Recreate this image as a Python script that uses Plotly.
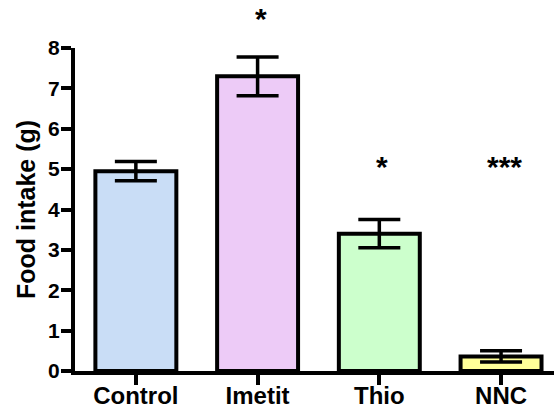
import plotly.graph_objects as go

# Food intake per treatment group (mean ± SEM)
groups = ["Control", "Imetit", "Thio", "NNC"]
intake_mean = [4.95, 7.30, 3.40, 0.36]
intake_sem = [0.24, 0.48, 0.35, 0.14]
bar_colors = ["#c9ddf6", "#edcbf7", "#ccffcc", "#ffff99"]

# Significance markers and the height (g) at which each is written
sig_groups = ["Imetit", "Thio", "NNC"]
sig_labels = ["*", "*", "***"]
sig_heights = [8.74, 5.07, 5.07]

y_ticks = [0, 1, 2, 3, 4, 5, 6, 7, 8]
y_max = 8

FONT = "Liberation Sans, Arial, Helvetica, sans-serif"

fig = go.Figure()
fig.add_trace(go.Bar(
    x=groups,
    y=intake_mean,
    width=0.665,
    marker=dict(color=bar_colors, line=dict(color="black", width=4)),
    error_y=dict(type="data", array=intake_sem, visible=True,
                 color="black", thickness=3.5, width=21),
    showlegend=False,
))

# Stars go in paper coordinates so the one above the axis top is not hidden
for g, lab, h in zip(sig_groups, sig_labels, sig_heights):
    fig.add_annotation(x=g, xref="x", y=h / y_max, yref="paper",
                       text=lab, showarrow=False, xanchor="center", yanchor="middle",
                       xshift=3,
                       font=dict(family=FONT, size=30, color="black", weight="bold"))

fig.update_layout(
    width=554, height=409,
    margin=dict(l=75, r=0, t=48, b=38),
    paper_bgcolor="white", plot_bgcolor="white",
)
fig.update_xaxes(
    range=[-0.5, 3.435], automargin=False,
    showline=True, linecolor="black", linewidth=4,
    ticks="outside", ticklen=10, tickwidth=4, tickcolor="black",
    ticklabelstandoff=-10,
    tickfont=dict(family=FONT, size=24, color="black", weight="bold"),
    showgrid=False, zeroline=False,
)
fig.update_yaxes(
    range=[0, y_max], automargin=False,
    tickvals=y_ticks,
    showline=True, linecolor="black", linewidth=4,
    ticks="outside", ticklen=10, tickwidth=4, tickcolor="black",
    ticklabelstandoff=-3,
    tickfont=dict(family=FONT, size=21, color="black", weight="bold"),
    title=dict(text="Food intake (g)", standoff=6,
               font=dict(family=FONT, size=25, color="black", weight="bold")),
    showgrid=False, zeroline=False,
)

fig.write_html("out.html")
